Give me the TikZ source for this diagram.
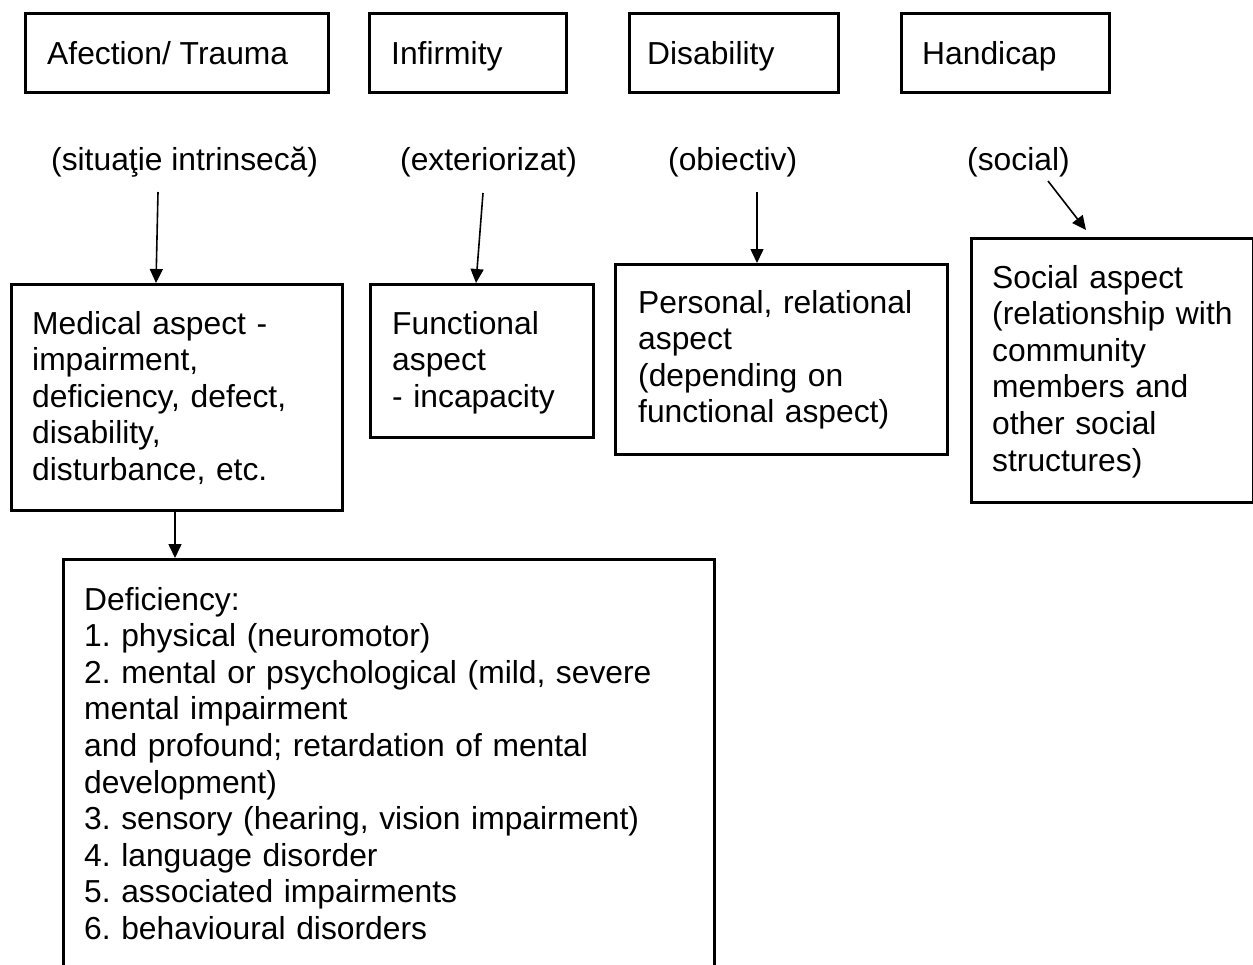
\documentclass[tikz,border=0pt]{standalone}
\usepackage{fontspec}
\setmainfont{Liberation Sans}
\usetikzlibrary{arrows.meta,calc}
\frenchspacing
\begin{document}
\begin{tikzpicture}[x=1pt,y=-1pt,
  box/.style={draw, line width=3pt, inner sep=0pt, anchor=north west},
  txt/.style={anchor=base west, inner sep=0pt, align=left,
              font=\fontsize{31.8}{36.6}\selectfont\frenchspacing},
  arr/.style={line width=1.6pt, -{Triangle[length=14pt,width=13pt]}}]
\useasboundingbox (0,0) rectangle (1253,964);

% top row: the four terms
\node[box, minimum width=303, minimum height=79] (aff)  at (24,12) {};
\node[box, minimum width=197, minimum height=79] (inf)  at (368,12) {};
\node[box, minimum width=209, minimum height=79] (dis)  at (628,12) {};
\node[box, minimum width=208, minimum height=79] (hand) at (900,12) {};
\node[txt] (taff)  at (47,64)  {Afection/ Trauma};
\node[txt] (tinf)  at (391,64) {Infirmity};
\node[txt] (tdis)  at (647,64) {Disability};
\node[txt] (thand) at (922,64) {Handicap};

% qualifiers
\node[txt] (qsit) at (51,170)  {(situaţie intrinsecă)};
\node[txt] (qext) at (400,170) {(exteriorizat)};
\node[txt] (qobj) at (668,170) {(obiectiv)};
\node[txt] (qsoc) at (967,170) {(social)};

% aspect boxes
\node[box, minimum width=331, minimum height=226] (med)  at (10,283)  {};
\node[box, minimum width=223, minimum height=153] (func) at (369,283) {};
\node[box, minimum width=332, minimum height=190] (pers) at (614,263) {};
\node[box, minimum width=282, minimum height=264] (soc)  at (970,237) {};

\node[txt, text width=305] (tmed) at (32,334)
  {Medical aspect -\\impairment,\\deficiency, defect,\\disability,\\disturbance, etc.};
\node[txt, text width=195] (tfunc) at (392,334)
  {Functional\\aspect\\- incapacity};
\node[txt, text width=300] (tpers) at (638,313)
  {Personal, relational\\aspect\\(depending on\\functional aspect)};
\node[txt, text width=255] (tsoc) at (992,288)
  {Social aspect\\(relationship with\\community\\members and\\other social\\structures)};

% deficiency box, running past the lower edge
\begin{scope}
\clip (0,0) rectangle (1253,964);
\node[box, minimum width=651, minimum height=440] (def) at (62,558) {};
\end{scope}
\node[txt, text width=620] (tdef) at (84,610)
  {Deficiency:\\
   1. physical (neuromotor)\\
   2. mental or psychological (mild, severe\\
   mental impairment\\
   and profound; retardation of mental\\
   development)\\
   3. sensory (hearing, vision impairment)\\
   4. language disorder\\
   5. associated impairments\\
   6. behavioural disorders};

% connectors
\coordinate (s1) at (158,192);
\coordinate (s3) at (483,193);
\coordinate (s4) at (757,192);
\coordinate (s5) at (1048,181);
\coordinate (e5) at (1086,230);
\draw[arr] (s1) -- ($(med.north west)+(146,0)$);
\draw[arr] ($(med.south west)+(165,0)$) -- ($(def.north west)+(113,0)$);
\draw[arr] (s3) -- ($(func.north west)+(107,0)$);
\draw[arr] (s4) -- (s4 |- pers.north);
\draw[arr] (s5) -- (e5);
\end{tikzpicture}
\end{document}
